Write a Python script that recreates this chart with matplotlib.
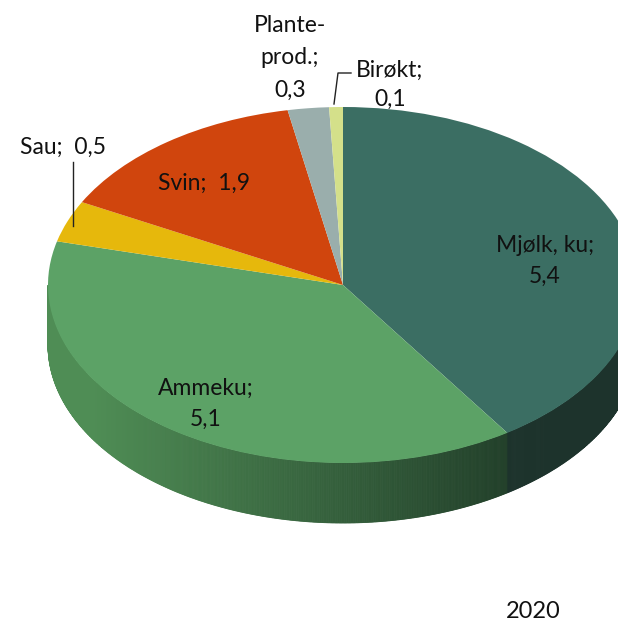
import numpy as np
import matplotlib.pyplot as plt
from matplotlib.colors import to_rgb

plt.rcParams['font.family'] = ['Lato', 'DejaVu Sans']

# Produksjon per driftsform, 2020
categories = ['Mjølk, ku', 'Ammeku', 'Sau', 'Svin', 'Planteprod.', 'Birøkt']
values = [5.4, 5.1, 0.5, 1.9, 0.3, 0.1]
year_label = '2020'

top_colors = ['#3b6e63', '#5ca266', '#e6b80c', '#d0450d', '#9aaeac', '#d4e08a']

W, H = 618, 633
CX, CY = 343, 285      # centre of the top face, pixels from top-left
RX, RY = 295, 178      # ellipse half-axes in pixels
DEPTH = 60 / RY        # thickness of the disc in data units


def px(x, y):
    """pixel position (from top-left) -> data coordinates"""
    return (x - CX) / RX, (CY - y) / RY


def fmt(v):
    return f'{v:.1f}'.replace('.', ',')


fig = plt.figure(figsize=(W / 100, H / 100), dpi=100)
ax = fig.add_axes([0, 0, 1, 1])

# side of the disc: only the front half (90..270 deg clockwise from top) shows
fracs = np.array(values) / sum(values)
edges = np.concatenate([[0], np.cumsum(fracs) * 360])
amm_light, amm_dark = np.array(to_rgb('#4f8d55')), np.array(to_rgb('#22402a'))
mjolk_side = np.array(to_rgb('#1d332c'))

theta = np.linspace(90, 270, 721)
for t0, t1 in zip(theta[:-1], theta[1:]):
    tm = 0.5 * (t0 + t1)
    idx = np.searchsorted(edges, tm) - 1
    xm = np.sin(np.radians(tm))
    if idx == 0:
        col = mjolk_side
    else:
        k = np.clip((xm + 0.85) / 1.4, 0, 1)
        col = amm_light * (1 - k) + amm_dark * k
    a = np.radians([t0, t1])
    xs = np.sin(a)
    ys = np.cos(a)
    ax.fill([xs[0], xs[1], xs[1], xs[0]],
            [ys[0], ys[1], ys[1] - DEPTH, ys[0] - DEPTH],
            color=col, lw=0.6, ec=col, zorder=1)

ax.pie(values, colors=top_colors, startangle=90, counterclock=False,
       radius=1, center=(0, 0), wedgeprops=dict(linewidth=0))
for w in ax.patches[-len(values):]:
    w.set_zorder(2)

ax.set_aspect('auto')
ax.set_xlim(px(0, 0)[0], px(W, 0)[0])
ax.set_ylim(px(0, H)[1], px(0, 0)[1])
ax.axis('off')

tk = dict(fontsize=16.5, color='#111111', ha='center', va='center', zorder=5)
ax.text(*px(545, 261), f'{categories[0]};\n{fmt(values[0])}', linespacing=1.6, **tk)
ax.text(*px(206, 404), f'{categories[1]};\n{fmt(values[1])}', linespacing=1.6, **tk)
ax.text(*px(63, 147), f'{categories[2]};  {fmt(values[2])}', **tk)
ax.text(*px(204, 183), f'{categories[3]};  {fmt(values[3])}', **tk)
ax.text(*px(290, 58), f'Plante-\nprod.;\n{fmt(values[4])}', linespacing=1.65, **tk)
ax.text(*px(390, 85), f'{categories[5]};\n{fmt(values[5])}', linespacing=1.5, **tk)
ax.text(*px(533, 611), year_label, fontsize=17, color='#111111', ha='center', va='center')

# leader lines for the small slices
ax.plot(*zip(px(334, 104), px(338, 73), px(351, 73)), color='#222222', lw=1, zorder=4)
ax.plot(*zip(px(73, 162), px(73, 226)), color='#222222', lw=1, zorder=4)

fig.savefig('out.png', dpi=100)
